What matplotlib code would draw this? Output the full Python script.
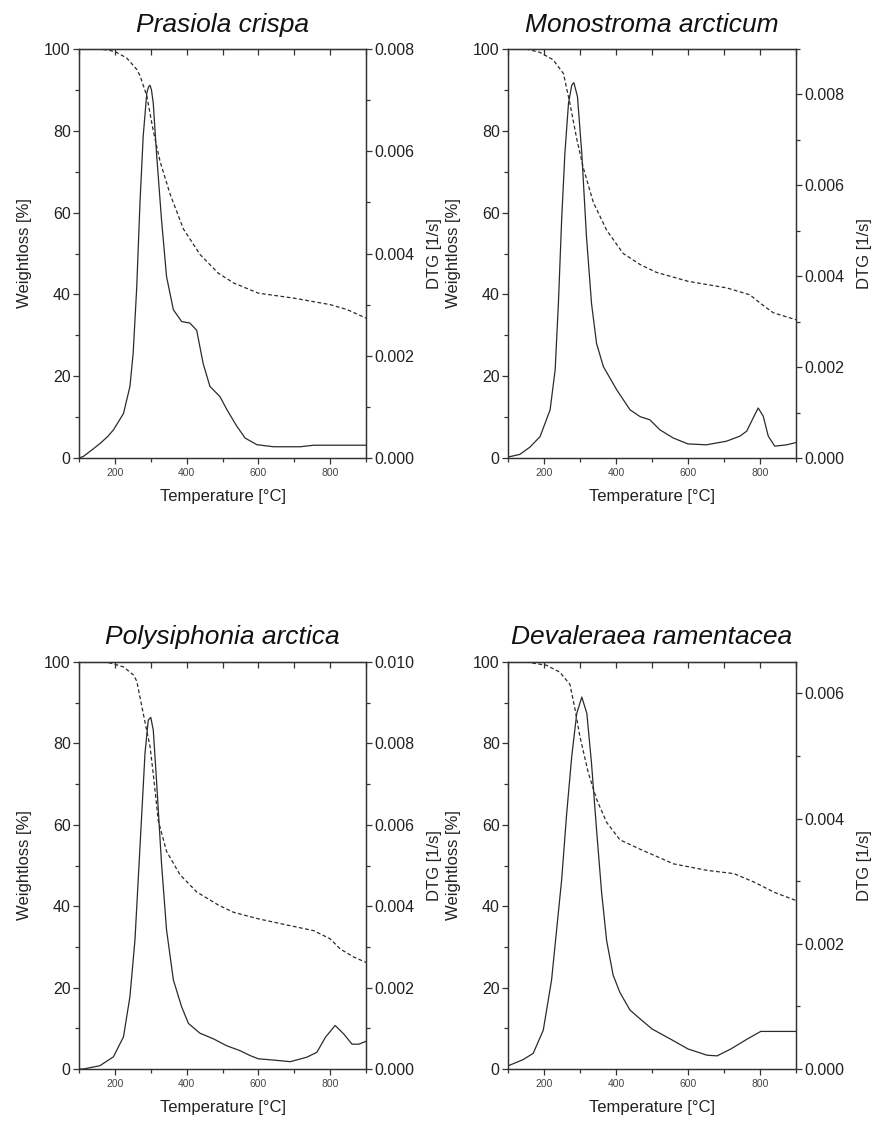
import matplotlib.pyplot as plt
from matplotlib.ticker import MultipleLocator, FormatStrFormatter

plt.rcParams['font.family'] = ['Liberation Sans', 'DejaVu Sans']

# Prasiola crispa
pc_dtg_t = [100, 112, 140, 158, 180, 196, 224, 242, 251, 261, 270, 279, 289, 294, 298, 302,
            307, 316, 330, 344, 363, 386, 409, 428, 446, 465, 493, 512, 540, 563, 596, 642,
            717, 754, 900]
pc_dtg = [0.0, 0.00003, 0.00018, 0.00028, 0.00042, 0.00055, 0.00087, 0.0014, 0.00205,
          0.00335, 0.0050, 0.0063, 0.00714, 0.00726, 0.00729, 0.0072, 0.00694, 0.00597,
          0.00466, 0.00355, 0.0029, 0.00267, 0.00264, 0.0025, 0.00185, 0.0014, 0.0012,
          0.00095, 0.00062, 0.00039, 0.00026, 0.00022, 0.00022, 0.00025, 0.00025]
pc_w_t = [150, 175, 200, 233, 261, 270, 289, 307, 326, 354, 391, 437, 488, 531, 600, 698,
          800, 847, 900]
pc_w = [100, 99.8, 99.4, 97.8, 95.0, 93.5, 88.5, 80.0, 72.5, 64.5, 56.0, 49.8, 45.2, 42.8,
        40.3, 39.1, 37.5, 36.3, 34.2]

# Monostroma arcticum
ma_dtg_t = [100, 133, 161, 189, 217, 231, 240, 249, 258, 268, 277, 283, 293, 305, 318, 332,
            346, 365, 402, 439, 467, 494, 522, 559, 600, 651, 707, 744, 763, 781, 795, 809,
            823, 841, 874, 900]
ma_dtg = [0.00002, 0.00008, 0.00024, 0.00047, 0.00106, 0.00194, 0.0034, 0.00524, 0.0067,
          0.0078, 0.0082, 0.00826, 0.00795, 0.0067, 0.00487, 0.0034, 0.00252, 0.00201,
          0.0015, 0.00106, 0.00091, 0.00084, 0.00062, 0.00044, 0.00031, 0.00029, 0.00037,
          0.00048, 0.00059, 0.00088, 0.0011, 0.00092, 0.00048, 0.00026, 0.00029, 0.00034]
ma_w_t = [150, 188, 225, 254, 272, 291, 309, 337, 374, 420, 467, 512, 600, 707, 772, 800,
          837, 900]
ma_w = [100, 99.2, 97.4, 94.0, 86.7, 78.0, 71.0, 62.5, 55.7, 50.0, 47.3, 45.4, 43.2, 41.6,
        39.9, 37.9, 35.5, 33.8]

# Polysiphonia arctica
pa_dtg_t = [100, 112, 158, 196, 224, 242, 256, 265, 275, 284, 293, 300, 307, 316, 330, 344,
            363, 386, 405, 437, 475, 512, 549, 577, 600, 642, 689, 735, 763, 787, 814, 838,
            861, 880, 900]
pa_dtg = [0.0, 0.0, 0.00008, 0.0003, 0.00079, 0.00178, 0.00317, 0.00464, 0.00628, 0.00776,
          0.00857, 0.00864, 0.00833, 0.0071, 0.00505, 0.00342, 0.00219, 0.00153, 0.00112,
          0.00088, 0.00074, 0.00057, 0.00045, 0.00033, 0.00025, 0.00022, 0.00018, 0.00029,
          0.00041, 0.00078, 0.00107, 0.00086, 0.00061, 0.00061, 0.00068]
pa_w_t = [165, 190, 224, 252, 261, 279, 298, 307, 321, 344, 381, 428, 490, 531, 600, 689,
          754, 800, 828, 866, 900]
pa_w = [100, 99.7, 98.8, 96.8, 95.3, 87.4, 79.2, 72.5, 61.0, 53.5, 47.8, 43.5, 40.2, 38.5,
        36.9, 35.2, 34.0, 32.0, 29.5, 27.5, 26.2]

# Devaleraea ramentacea
dr_dtg_t = [100, 142, 170, 198, 221, 235, 249, 263, 277, 291, 305, 319, 332, 346, 360, 374,
            392, 411, 439, 467, 500, 560, 600, 653, 681, 719, 765, 802, 900]
dr_dtg = [0.00005, 0.00015, 0.00025, 0.00062, 0.00142, 0.00222, 0.00302, 0.00408, 0.00499,
          0.00568, 0.00594, 0.00568, 0.00488, 0.00382, 0.00282, 0.00205, 0.0015, 0.00122,
          0.00094, 0.0008, 0.00064, 0.00045, 0.00032, 0.00022, 0.00021, 0.00032, 0.00048,
          0.0006, 0.0006]
dr_w_t = [150, 207, 244, 272, 286, 300, 323, 346, 374, 411, 467, 560, 653, 728, 784, 840, 900]
dr_w = [100, 99.2, 97.5, 94.5, 88.5, 81.6, 72.8, 66.3, 60.6, 56.3, 54.0, 50.4, 48.8, 48.0,
        45.9, 43.4, 41.4]

titles = ["Prasiola crispa", "Monostroma arcticum", "Polysiphonia arctica", "Devaleraea ramentacea"]
dtg_max = [0.008, 0.009, 0.010, 0.0065]

W, H = 875, 1126
boxes = [(79, 49, 287, 409), (508, 49, 288, 409), (79, 662, 287, 407), (508, 662, 288, 407)]
line_col = '#2b2b2b'


def draw_panel(fig, box, title, w_t, w, d_t, d, dmax, title_pad):
    x0, y0, bw, bh = box
    ax = fig.add_axes([x0 / W, 1 - (y0 + bh) / H, bw / W, bh / H])
    ax2 = ax.twinx()

    ax.plot(w_t, w, color=line_col, lw=0.9, ls=(0, (3, 2)))
    ax2.plot(d_t, d, color=line_col, lw=0.9)

    ax.set_xlim(100, 900)
    ax.set_ylim(0, 100)
    ax2.set_ylim(0, dmax)

    ax.xaxis.set_major_locator(MultipleLocator(200))
    ax.xaxis.set_minor_locator(MultipleLocator(100))
    ax.yaxis.set_major_locator(MultipleLocator(20))
    ax.yaxis.set_minor_locator(MultipleLocator(10))
    ax2.yaxis.set_major_locator(MultipleLocator(0.002))
    ax2.yaxis.set_minor_locator(MultipleLocator(0.001))
    ax2.yaxis.set_major_formatter(FormatStrFormatter('%.3f'))

    ax.tick_params(axis='x', which='both', direction='out', colors='#333333',
                   labelsize=7.5, labelcolor='#444444', width=0.9, pad=3)
    ax.tick_params(axis='x', which='major', length=4)
    ax.tick_params(axis='x', which='minor', length=3)
    ax.tick_params(axis='y', which='both', direction='out', colors='#333333',
                   labelsize=11.5, labelcolor='#222222', width=0.9, pad=2)
    ax.tick_params(axis='y', which='major', length=4)
    ax.tick_params(axis='y', which='minor', length=3)
    ax2.tick_params(axis='y', which='both', direction='out', colors='#333333',
                    labelsize=11.5, labelcolor='#222222', width=0.9, pad=2)
    ax2.tick_params(axis='y', which='major', length=4)
    ax2.tick_params(axis='y', which='minor', length=3)

    top = ax.secondary_xaxis('top')
    top.xaxis.set_major_locator(MultipleLocator(100))
    top.tick_params(axis='x', direction='in', length=4, width=0.9, colors='#333333',
                    labeltop=False)

    for a in (ax, ax2):
        for s in a.spines.values():
            s.set_color('#333333')
            s.set_linewidth(0.9)

    ax.set_xlabel("Temperature [°C]", fontsize=12, labelpad=8, color='#222222')
    ax.set_ylabel("Weightloss [%]", fontsize=12, labelpad=9, color='#222222')
    ax2.set_ylabel("DTG [1/s]", fontsize=12, labelpad=9, color='#222222')
    ax.set_title(title, fontsize=19, style='italic', pad=title_pad, color='#111111')


def main():
    fig = plt.figure(figsize=(W / 100, H / 100), dpi=100)
    draw_panel(fig, boxes[0], titles[0], pc_w_t, pc_w, pc_dtg_t, pc_dtg, dtg_max[0], 12)
    draw_panel(fig, boxes[1], titles[1], ma_w_t, ma_w, ma_dtg_t, ma_dtg, dtg_max[1], 12)
    draw_panel(fig, boxes[2], titles[2], pa_w_t, pa_w, pa_dtg_t, pa_dtg, dtg_max[2], 13)
    draw_panel(fig, boxes[3], titles[3], dr_w_t, dr_w, dr_dtg_t, dr_dtg, dtg_max[3], 13)
    fig.savefig("out.png", dpi=100, facecolor='white')


if __name__ == "__main__":
    main()
